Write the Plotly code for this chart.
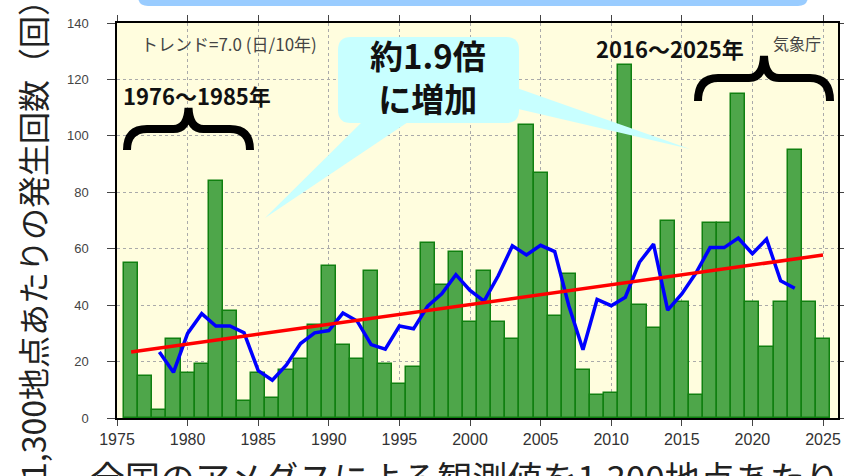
import numpy as np
import plotly.graph_objects as go

# Annual count (per 1,300 stations)
years = list(range(1976, 2026))
counts = [55, 15, 3, 28, 16, 19, 84, 38, 6, 16,
          7, 17, 21, 33, 54, 26, 21, 52, 19, 12,
          18, 62, 47, 59, 34, 52, 34, 28, 104, 87,
          36, 51, 17, 8, 9, 125, 40, 32, 70, 41,
          8, 69, 69, 115, 41, 25, 41, 95, 41, 28]

x_ticks = list(range(1975, 2030, 5))
y_ticks = list(range(0, 160, 20))

y_title = "1,300地点あたりの発生回数（回）"
note_text = "全国のアメダスによる観測値を1,300地点あたりに換算した値"
trend_text = "トレンド=7.0 (日/10年)"
agency_text = "気象庁"
callout_text = "<b>約1.9倍</b><br><b>に増加</b>"
early_label = "<b>1976〜1985年</b>"
late_label = "<b>2016〜2025年</b>"

W, H = 844, 476
L, R, T, B = 117, 838, 23, 418   # plot area in pixels
XMIN, XMAX = 1975, 1975 + (R - L) / ((823 - 117) / 50)


def px(x):
    return (x - L) / (R - L)


def py(y):
    return (B - y) / (B - T)


def path(points_cmds):
    # build an SVG path in paper coordinates from pixel coordinates
    out = []
    for cmd, pts in points_cmds:
        coords = " ".join(f"{px(a):.5f},{py(b):.5f}" for a, b in pts)
        out.append(f"{cmd} {coords}".strip())
    return " ".join(out)


def rounded_rect(x0, y0, x1, y1, r):
    return path([
        ("M", [(x0 + r, y0)]), ("L", [(x1 - r, y0)]), ("Q", [(x1, y0), (x1, y0 + r)]),
        ("L", [(x1, y1 - r)]), ("Q", [(x1, y1), (x1 - r, y1)]),
        ("L", [(x0 + r, y1)]), ("Q", [(x0, y1), (x0, y1 - r)]),
        ("L", [(x0, y0 + r)]), ("Q", [(x0, y0), (x0 + r, y0)]), ("Z", []),
    ])


def brace(x0, x1, ybot, ytop, ytip):
    xm = (x0 + x1) / 2
    return path([
        ("M", [(x0, ybot)]), ("Q", [(x0, ytop), (x0 + 20, ytop)]),
        ("L", [(xm - 15, ytop)]), ("Q", [(xm - 1, ytop), (xm, ytip)]),
        ("Q", [(xm + 1, ytop), (xm + 15, ytop)]),
        ("L", [(x1 - 20, ytop)]), ("Q", [(x1, ytop), (x1, ybot)]),
    ])


arr = np.array(counts, dtype=float)
yrs = np.array(years, dtype=float)
slope, icpt = np.polyfit(yrs, arr, 1)
trend_x = [years[0], years[-1]]
trend_y = [slope * x + icpt for x in trend_x]

run_y = np.convolve(arr, np.ones(5) / 5, mode="valid")
run_x = years[2:-2]

fig = go.Figure()
fig.add_trace(go.Bar(
    x=years, y=counts, width=1,
    marker=dict(color="rgb(78,166,74)", line=dict(color="rgb(16,128,16)", width=1.5)),
    hoverinfo="x+y",
))
fig.add_trace(go.Scatter(x=run_x, y=run_y, mode="lines",
                         line=dict(color="#0000ff", width=3.5)))
fig.add_trace(go.Scatter(x=trend_x, y=trend_y, mode="lines",
                         line=dict(color="#ff0000", width=3.5)))

cyan = "rgb(200,255,255)"
shapes = [
    # banner strip at the top of the page
    dict(type="path", xref="paper", yref="paper", layer="above",
         path=rounded_rect(138, -30, 808, 6, 10),
         fillcolor="rgb(153,204,255)", line=dict(width=0)),
    # callout bubble
    dict(type="path", xref="paper", yref="paper", layer="above",
         path=rounded_rect(338, 37, 519, 123, 13),
         fillcolor=cyan, line=dict(width=0)),
    dict(type="path", xref="paper", yref="paper", layer="above",
         path=path([("M", [(366, 118)]), ("L", [(414, 118)]), ("L", [(265, 218)]), ("Z", [])]),
         fillcolor=cyan, line=dict(width=0)),
    dict(type="path", xref="paper", yref="paper", layer="above",
         path=path([("M", [(514, 87)]), ("L", [(514, 108)]), ("L", [(690, 149)]), ("Z", [])]),
         fillcolor=cyan, line=dict(width=0)),
    # braces
    dict(type="path", xref="paper", yref="paper", layer="above",
         path=brace(127, 250, 150, 129, 108), line=dict(color="black", width=8)),
    dict(type="path", xref="paper", yref="paper", layer="above",
         path=brace(698, 830, 101, 78, 56), line=dict(color="black", width=8)),
]

jp = "Noto Sans CJK JP"


def note(text, x, y, size, color, xanchor="center", yanchor="middle", **kw):
    return dict(text=text, x=px(x), y=py(y), xref="paper", yref="paper",
                showarrow=False, xanchor=xanchor, yanchor=yanchor,
                font=dict(family=jp, size=size, color=color), **kw)


annotations = [
    note(y_title, 32, 232, 32, "#222", textangle=-90),
    note(note_text, 88, 449, 35, "#222", xanchor="left", yanchor="top"),
    note(trend_text, 139, 43, 17, "#444", xanchor="left"),
    note(agency_text, 823, 43, 16, "#444", xanchor="right"),
    note(callout_text, 428, 77, 33, "#111"),
    note(early_label, 197, 95, 22, "#111"),
    note(late_label, 670, 48, 22, "#111"),
]

fig.update_layout(
    width=W, height=H,
    margin=dict(l=L, r=W - R, t=T, b=H - B, pad=0, autoexpand=False),
    paper_bgcolor="white", plot_bgcolor="rgb(255,253,222)",
    showlegend=False, bargap=0,
    shapes=shapes, annotations=annotations,
)
fig.update_xaxes(
    range=[XMIN, XMAX], tickvals=x_ticks, ticktext=[str(v) for v in x_ticks],
    showline=True, linecolor="black", linewidth=1.5, mirror="allticks",
    ticks="outside", ticklen=6, tickcolor="#444", tickwidth=1,
    showgrid=True, gridcolor="#aaaaaa", griddash="dot", gridwidth=1,
    tickfont=dict(family="Liberation Sans", size=16, color="#333"),
    zeroline=False, automargin=False,
)
fig.update_yaxes(
    range=[0, 140], tickvals=y_ticks,
    showline=True, linecolor="black", linewidth=1.5, mirror="allticks",
    ticks="outside", ticklen=8, tickcolor="#444", tickwidth=1,
    showgrid=True, gridcolor="#aaaaaa", griddash="dot", gridwidth=1,
    tickfont=dict(family="Liberation Sans", size=13, color="#444"),
    ticklabelstandoff=16, zeroline=False, automargin=False,
)

fig.write_html("out.html")
